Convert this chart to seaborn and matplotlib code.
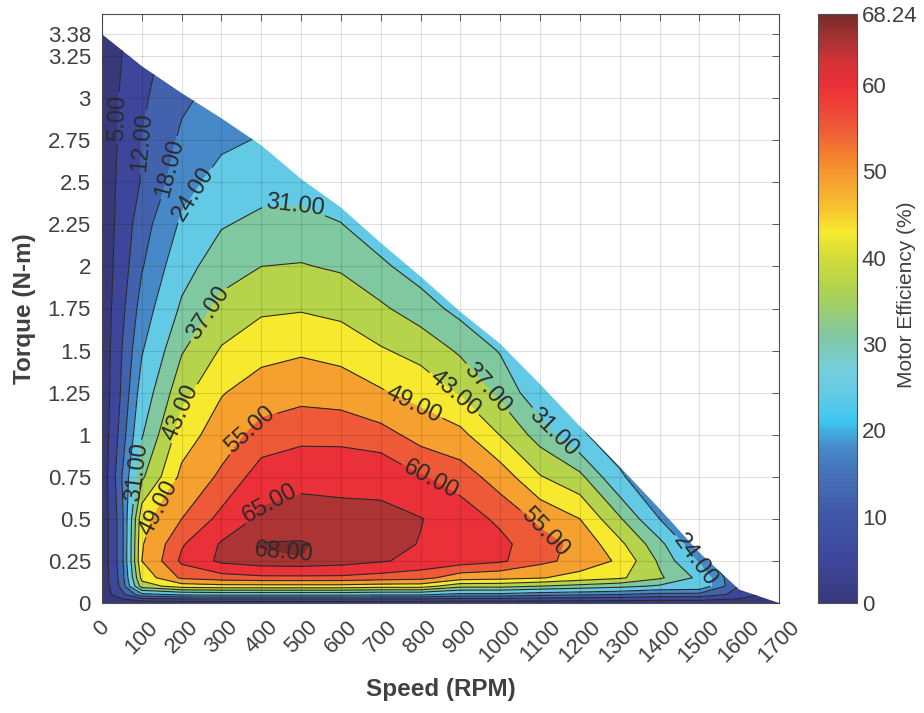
import numpy as np
import matplotlib
matplotlib.use("Agg")
import matplotlib.pyplot as plt
import seaborn as sns
from matplotlib.colors import LinearSegmentedColormap, Normalize
from matplotlib.cm import ScalarMappable
from matplotlib.patches import Polygon

# grid of the measured map
speed_rpm = [0, 50, 100, 200, 300, 400, 500, 600, 700, 800, 900,
             1000, 1100, 1200, 1300, 1400, 1500, 1600, 1700]
torque_nm = [0, 0.05, 0.1, 0.15, 0.25, 0.35, 0.5, 0.75, 1.0, 1.25,
             1.5, 1.75, 2.0, 2.25, 2.5, 2.75, 3.0, 3.25, 3.5]

# efficiency (%) along torque, one list per speed
eff_by_speed = [
    [0, 0, 0, 0, 0, 0, 0, 0, 0, 0, 0, 0, 0, 0, 0, 0, 0, 0, 0],
    [0, 10, 14, 15, 16, 16, 16, 18, 15, 13, 12, 10.5, 9, 8, 7.3, 6.5, 6, 5, 4.5],
    [0, 22, 40, 45, 49, 48.5, 47, 36, 30.5, 27, 23.5, 20.5, 17.5, 15.5, 12.5, 12, 11, 10, 9],
    [0, 25, 46, 56, 61, 59.5, 55, 50.5, 46, 41, 36.5, 32, 28.5, 25, 21.5, 19, 17, 15, 13],
    [0, 26, 47, 58, 66, 65.5, 61.5, 56, 52.2, 48.6, 43.6, 38.7, 34.5, 30.5, 26.5, 22.7, 20, 18, 16],
    [0, 26, 47, 59, 67.5, 68.15, 66, 62.5, 57, 52, 47, 42, 37, 32.6, 28.5, 24.5, 22, 20, 18],
    [0, 26, 47, 59, 67.9, 68.24, 66.5, 64, 58.5, 53.3, 48.2, 42.5, 37.4, 33, 28.5, 25, 22, 20, 18],
    [0, 26, 47, 59, 67, 67.2, 66, 64, 58.4, 52.6, 46.8, 41.3, 36.2, 31.2, 27, 24, 21, 19, 17],
    [0, 25, 46, 58, 65.5, 66.5, 65.8, 64, 57, 49.7, 43.6, 38, 32.2, 27, 24, 21, 19, 17, 15],
    [0, 25, 46, 57, 63.5, 64.8, 65.2, 60.3, 53, 46.7, 41, 33.9, 28, 24, 21, 19, 17, 15, 13],
    [0, 22, 39, 52, 62.5, 63.5, 62.5, 57.9, 50.6, 42.3, 36.1, 29, 26, 23, 21, 19, 17, 15, 13],
    [0, 22, 39, 51, 60.8, 61.3, 59, 52.3, 42.8, 35.5, 30.5, 27, 24, 22, 20, 18, 16, 14, 12],
    [0, 20, 37, 49.5, 56.5, 57, 53.8, 43.4, 34.4, 26.5, 23, 21, 19, 17.5, 16, 15, 14, 12, 11],
    [0, 19, 35, 46.5, 53, 53.5, 49, 38.6, 25, 21, 19, 17.5, 16, 15, 14, 13, 12, 11, 10],
    [0, 18, 33, 44, 48, 44.5, 37.8, 25, 20, 18, 16.5, 15.5, 14.5, 13.5, 13, 12, 11, 10, 9],
    [0, 16, 30, 38, 36, 33, 24, 18, 16, 15, 14, 13, 12.5, 12, 11.5, 11, 10, 9, 8],
    [0, 16, 29, 29.5, 23, 18, 14, 12, 11, 10.5, 10, 9.5, 9, 8.5, 8, 7.5, 7, 6.5, 6],
    [0, 10, 12, 11, 9, 8, 7, 6, 5.5, 5, 5, 4.5, 4.5, 4, 4, 3.5, 3.5, 3, 3],
    [0, 0, 0, 0, 0, 0, 0, 0, 0, 0, 0, 0, 0, 0, 0, 0, 0, 0, 0],
]

# maximum torque curve (edge of the operating region)
limit_speed = [0, 100, 200, 300, 400, 500, 600, 700, 800, 900,
               1000, 1100, 1200, 1300, 1400, 1500, 1600, 1700]
limit_torque = [3.38, 3.19, 3.03, 2.88, 2.72, 2.52, 2.35, 2.14, 1.94, 1.73,
                1.54, 1.30, 1.05, 0.81, 0.56, 0.30, 0.08, 0.0]

levels = [0, 5, 12, 18, 24, 31, 37, 43, 49, 55, 60, 65, 68, 68.24]
eff_max = 68.24

cbar_ticks = [0, 10, 20, 30, 40, 50, 60, 68.24]
cbar_labels = ["0", "10", "20", "30", "40", "50", "60", "68.24"]
ytick_vals = [0, 0.25, 0.5, 0.75, 1, 1.25, 1.5, 1.75, 2, 2.25, 2.5, 2.75, 3, 3.25, 3.38]
ytick_labels = ["0", "0.25", "0.5", "0.75", "1", "1.25", "1.5", "1.75", "2",
                "2.25", "2.5", "2.75", "3", "3.25", "3.38"]
xtick_vals = list(range(0, 1701, 100))

# colormap stops
cmap_stops = [
    (0, "#37397b"), (5, "#3e479c"), (10, "#3f56a6"), (12, "#4362ae"),
    (15, "#4572b9"), (18, "#478ac8"), (21, "#3cc6f0"), (24, "#62cae6"),
    (27, "#74cddc"), (31, "#80c8a0"), (35, "#a5d060"), (37, "#b6d44a"),
    (40, "#d2dc3a"), (43, "#f6ea2e"), (46, "#f8c030"), (49, "#f6a030"),
    (52, "#f2802f"), (55, "#ee5a38"), (58, "#ee4038"), (60, "#ec3038"),
    (63, "#d03236"), (65, "#ac3434"), (68.24, "#7c2a2a"),
]

sns.set_style("white")
plt.rcParams["font.family"] = ["Liberation Sans", "DejaVu Sans"]
text_color = "#404040"

cmap = LinearSegmentedColormap.from_list(
    "eff", [(v / eff_max, c) for v, c in cmap_stops])
norm = Normalize(vmin=0, vmax=eff_max)
band_colors = [cmap(norm(lv)) for lv in levels[:-1]]

S, T = np.meshgrid(speed_rpm, torque_nm)
E = np.array(eff_by_speed).T

fig = plt.figure(figsize=(9.24, 7.13), dpi=100)
ax = fig.add_axes([102 / 924, 110 / 713, 677 / 924, 589 / 713])

region = Polygon(list(zip(limit_speed, limit_torque)) + [(0, 0)], closed=True,
                 transform=ax.transData, facecolor="none", edgecolor="none")
ax.add_patch(region)

cf = ax.contourf(S, T, E, levels=levels, colors=band_colors)
cf.set_clip_path(region)
cs = ax.contour(S, T, E, levels=levels[1:-1], colors="#2a2a2a", linewidths=0.8)
cs.set_clip_path(region)

label_spots = [
    (45, 2.88), (103, 2.74), (163, 2.59), (229, 2.43), (485, 2.31),
    (267, 1.72), (204, 1.13), (87, 0.78), (146, 0.56), (372, 1.03),
    (422, 0.59), (455, 0.29), (828, 0.75), (790, 1.22), (891, 1.27),
    (975, 1.29), (1142, 1.03), (1117, 0.44), (1477, 0.23),
]
ax.clabel(cs, fmt="%.2f", fontsize=17, colors="#2a2a2a", inline=True,
          inline_spacing=3, manual=label_spots)

ax.set_xlim(0, 1700)
ax.set_ylim(0, 3.5)
ax.set_xticks(xtick_vals)
ax.set_xticklabels([str(v) for v in xtick_vals], rotation=45, ha="center", va="top")
ax.set_yticks(ytick_vals)
ax.set_yticklabels(ytick_labels)
ax.tick_params(direction="in", top=True, right=True, length=5, width=0.6,
               labelsize=16, labelcolor=text_color, color="#404040")
ax.tick_params(axis="x", pad=10)
ax.tick_params(axis="y", pad=8)
ax.grid(True, color="black", alpha=0.12, linewidth=0.8)
ax.set_axisbelow(False)
for sp in ax.spines.values():
    sp.set_color("#505050")
    sp.set_linewidth(0.8)

ax.set_xlabel("Speed (RPM)", fontsize=17.5, fontweight="bold", color=text_color, labelpad=8)
ax.set_ylabel("Torque (N-m)", fontsize=17.5, fontweight="bold", color=text_color, labelpad=8)

cax = fig.add_axes([818 / 924, 110 / 713, 39 / 924, 589 / 713])
cb = fig.colorbar(ScalarMappable(norm=norm, cmap=cmap), cax=cax)
cb.set_ticks(cbar_ticks)
cb.set_ticklabels(cbar_labels)
cb.ax.tick_params(direction="in", length=5, width=0.6, labelsize=16,
                  labelcolor=text_color, color="#404040")
cb.outline.set_edgecolor("#505050")
cb.outline.set_linewidth(0.8)
fig.text(907 / 924, 1 - 295 / 713, "Motor Efficiency (%)", rotation=90,
         ha="center", va="center", fontsize=15, color=text_color)

fig.savefig("out.png", dpi=100)
